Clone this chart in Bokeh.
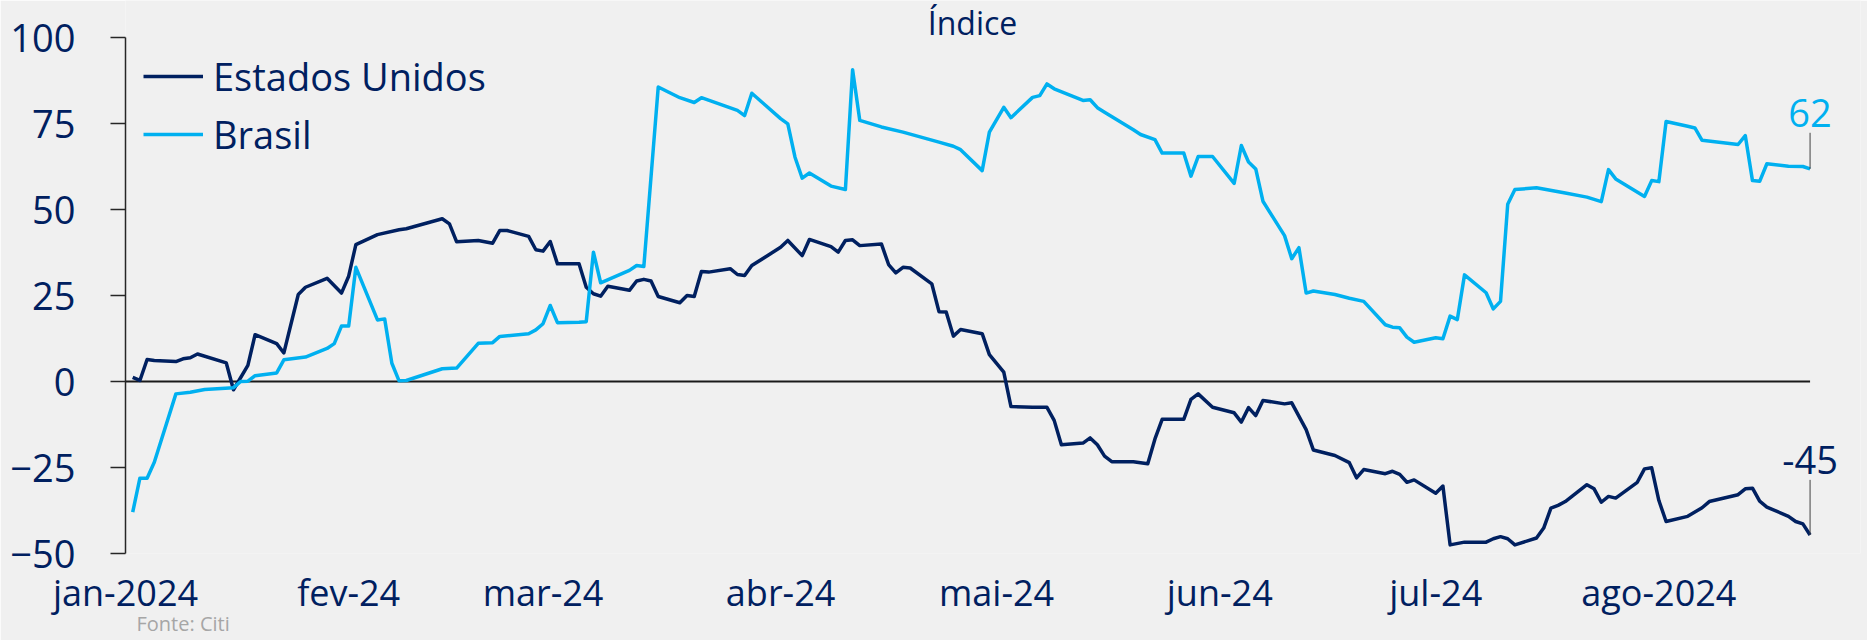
import pandas as pd
from bokeh.plotting import figure
from bokeh.models import Range1d, FixedTicker, Legend, LegendItem, Label, LinearAxis
from bokeh.embed import file_html
from bokeh.resources import INLINE
from bokeh.core.properties import value

# ---------------- data ----------------
YEAR = "2024"
us_dates = ["01-02","01-03","01-04","01-05","01-08","01-09","01-10","01-11","01-15","01-16",
            "01-18","01-19","01-22","01-23","01-25","01-26","01-29","01-31","02-01","02-02",
            "02-05","02-08","02-09","02-14","02-15","02-16","02-19","02-21","02-22","02-23",
            "02-26","02-27","02-28","02-29","03-01","03-04","03-05","03-06","03-07","03-08",
            "03-11","03-12","03-13","03-14","03-15","03-18","03-19","03-20","03-21","03-22",
            "03-25","03-26","03-27","03-28","04-01","04-02","04-04","04-05","04-08","04-09",
            "04-10","04-11","04-12","04-15","04-16","04-17","04-18","04-19","04-22","04-23",
            "04-24","04-25","04-26","04-29","04-30","05-02","05-03","05-06","05-08","05-09",
            "05-10","05-13","05-14","05-15","05-16","05-17","05-20","05-22","05-23","05-24",
            "05-27","05-28","05-29","05-31","06-03","06-04","06-05","06-06","06-07","06-10",
            "06-11","06-13","06-14","06-17","06-19","06-20","06-21","06-24","06-25","06-26",
            "06-27","06-28","07-01","07-02","07-03","07-05","07-08","07-09","07-10","07-11",
            "07-12","07-15","07-16","07-17","07-18","07-19","07-22","07-23","07-24","07-25",
            "07-26","07-29","07-30","07-31","08-01","08-02","08-05","08-07","08-08","08-12",
            "08-13","08-14","08-15","08-16","08-19","08-20","08-21","08-22"]
us_values = [1.2, 0.3, 6.4, 6.1, 5.8, 6.6, 6.9, 8.0, 5.4, -2.4,
             4.7, 13.6, 11.0, 8.3, 25.3, 27.4, 30.0, 25.7, 30.6, 39.8,
             42.7, 44.1, 44.4, 47.3, 45.8, 40.6, 41.0, 40.2, 43.9, 43.9,
             42.2, 38.3, 37.9, 40.7, 34.2, 34.2, 27.4, 25.5, 24.8, 27.7,
             26.5, 29.2, 29.7, 29.2, 24.7, 22.9, 25.0, 24.7, 32.0, 31.8,
             32.8, 31.1, 30.8, 33.7, 39.0, 41.0, 36.6, 41.3, 39.2, 37.6,
             41.0, 41.2, 39.5, 40.0, 34.0, 31.6, 33.2, 33.0, 28.4, 20.3,
             20.2, 13.2, 15.1, 13.9, 7.8, 2.7, -7.3, -7.5, -7.5, -11.3,
             -18.4, -17.9, -16.4, -18.4, -21.7, -23.3, -23.3, -23.9, -16.7, -11.0,
             -11.0, -5.2, -3.6, -7.5, -9.1, -11.8, -7.6, -9.9, -5.5, -6.5,
             -6.2, -14.0, -19.9, -21.5, -23.6, -28.0, -25.6, -26.8, -26.1, -27.0,
             -29.3, -28.6, -32.5, -30.4, -47.5, -46.7, -46.7, -45.7, -45.1, -45.7,
             -47.5, -45.5, -42.6, -36.8, -36.0, -34.9, -30.0, -31.2, -35.1, -33.4,
             -33.9, -29.3, -25.4, -25.1, -34.6, -40.7, -39.2, -36.7, -34.9, -32.9,
             -31.2, -31.0, -34.8, -36.5, -39.2, -40.7, -41.4, -44.6]

br_dates = ["01-02","01-03","01-04","01-05","01-08","01-10","01-12","01-16","01-17","01-18",
            "01-19","01-22","01-23","01-26","01-29","01-30","01-31","02-01","02-02","02-05",
            "02-06","02-07","02-08","02-09","02-14","02-16","02-19","02-21","02-22","02-26",
            "02-27","02-28","02-29","03-01","03-04","03-05","03-06","03-07","03-11","03-12",
            "03-13","03-15","03-18","03-20","03-21","03-26","03-27","03-28","04-01","04-02",
            "04-03","04-04","04-05","04-08","04-10","04-11","04-12","04-15","04-18","04-23",
            "04-25","04-26","04-29","04-30","05-02","05-03","05-06","05-07","05-08","05-09",
            "05-13","05-14","05-15","05-16","05-20","05-21","05-23","05-24","05-27","05-28",
            "05-29","05-31","06-03","06-04","06-05","06-06","06-07","06-10","06-11","06-12",
            "06-13","06-14","06-17","06-19","06-21","06-24","06-25","06-26","06-27","06-28",
            "07-01","07-02","07-03","07-04","07-05","07-08","07-09","07-10","07-11","07-12",
            "07-15","07-19","07-22","07-24","07-25","07-26","07-30","07-31","08-01","08-02",
            "08-05","08-06","08-07","08-12","08-13","08-14","08-15","08-16","08-19","08-21",
            "08-22"]
br_values = [-38.0, -28.1, -28.1, -23.5, -3.6, -3.1, -2.3, -1.8, 0.0, 0.1,
             1.7, 2.5, 6.3, 7.1, 9.6, 11.0, 16.1, 16.1, 33.2, 17.9,
             18.2, 5.3, 0.2, 0.3, 3.7, 3.9, 11.1, 11.3, 13.1, 13.9,
             15.0, 16.8, 22.1, 17.1, 17.2, 17.4, 37.6, 28.7, 32.3, 33.7,
             33.4, 85.6, 82.5, 81.1, 82.5, 78.8, 77.3, 83.8, 76.4, 74.9,
             65.2, 59.1, 60.6, 56.8, 55.8, 90.6, 75.9, 74.0, 72.5, 69.6,
             68.4, 67.4, 61.3, 72.5, 79.7, 76.7, 82.6, 83.1, 86.5, 85.1,
             81.7, 81.9, 79.6, 78.3, 73.2, 71.8, 70.3, 66.4, 66.4, 59.7,
             65.4, 65.4, 57.6, 68.6, 63.8, 61.8, 52.4, 42.4, 35.7, 38.9,
             25.7, 26.3, 25.3, 24.2, 23.3, 16.5, 15.8, 15.6, 12.9, 11.4,
             12.7, 12.4, 19.0, 18.0, 31.0, 25.8, 21.1, 23.3, 51.5, 55.8,
             56.3, 54.8, 53.6, 52.3, 61.6, 58.9, 53.8, 58.4, 58.1, 75.6,
             74.2, 73.7, 70.1, 68.9, 71.5, 58.4, 58.2, 63.3, 62.6, 62.5,
             61.8]

# tick label anchor dates (as placed in the reference)
label_dates = ["2024-01-01","2024-02-01","2024-02-28","2024-04-01","2024-05-01",
               "2024-06-01","2024-07-01","2024-08-01"]
month_labels = ["jan-2024","fev-24","mar-24","abr-24","mai-24","jun-24","jul-24","ago-2024"]
y_ticks = [-50, -25, 0, 25, 50, 75, 100]
series_names = ["Estados Unidos", "Brasil"]
title_text = "Índice"
source_text = "Fonte: Citi"

# ---------------- helpers ----------------
ORIGIN = pd.Timestamp(f"{YEAR}-01-01")
def to_days(mmdd):
    return [int((pd.Timestamp(f"{YEAR}-{s}") - ORIGIN).days) for s in mmdd]

us_x = to_days(us_dates)
br_x = to_days(br_dates)
tick_x = [int((pd.Timestamp(s) - ORIGIN).days) for s in label_dates]

NAVY = "#002060"
LIGHT = "#00b0f0"
BG = "#f0f0f0"
FONT = "Open Sans"

PX_PER_DAY = 7.199
LEFT = 125
X1 = (1860 - LEFT) / PX_PER_DAY
Y_TOP = 100 + 37 / 3.44                  # headroom above 100 for the title

p = figure(width=1867, height=640, output_backend="svg", toolbar_location=None,
           x_range=Range1d(0, X1), y_range=Range1d(-50, Y_TOP),
           min_border_left=LEFT, min_border_right=7, min_border_top=0, min_border_bottom=87)
p.background_fill_color = BG
p.border_fill_color = BG
p.outline_line_color = None
p.grid.visible = False

# zero line across the data span
p.line(x=[0, us_x[-1]], y=[0, 0], line_color="#1a1a1a", line_width=2)

r_us = p.line(us_x, us_values, line_color=NAVY, line_width=3.5, line_join="round")
r_br = p.line(br_x, br_values, line_color=LIGHT, line_width=3.5, line_join="round")

# end-value labels with leader lines
for xs, ys, col, lead, off in [(br_x, br_values, LIGHT, 10.5, 16.3), (us_x, us_values, NAVY, 16.0, 21.9)]:
    p.segment(x0=[xs[-1]], y0=[ys[-1]], x1=[xs[-1]], y1=[ys[-1] + lead],
              line_color="#404040", line_width=1)
    p.text(x=[xs[-1]], y=[ys[-1] + off], text=[f"{round(ys[-1]):d}"],
           text_color=col, text_font=value(FONT), text_font_size="38px",
           text_align="center", text_baseline="alphabetic")

# axes
xa = p.xaxis[0]
xa.ticker = FixedTicker(ticks=tick_x)
xa.major_label_overrides = {t: l for t, l in zip(tick_x, month_labels)}
xa.axis_line_color = None
xa.major_tick_line_color = None
xa.minor_tick_line_color = None
xa.major_tick_in = 0
xa.major_tick_out = 0
xa.major_label_text_font = FONT
xa.major_label_text_font_size = "36px"
xa.major_label_text_color = NAVY
xa.major_label_standoff = 14

ya = p.yaxis[0]
ya.bounds = (-50, 100)
ya.ticker = FixedTicker(ticks=y_ticks)
ya.axis_line_color = "#262626"
ya.axis_line_width = 1.5
ya.major_tick_line_color = "#262626"
ya.major_tick_line_width = 1.5
ya.major_tick_in = 0
ya.major_tick_out = 15
ya.minor_tick_line_color = None
ya.major_label_text_font = FONT
ya.major_label_text_font_size = "38px"
ya.major_label_text_color = NAVY
ya.major_label_standoff = 35

# source line: a tick-less second axis under the dates
src_x = 8
src_axis = LinearAxis(ticker=FixedTicker(ticks=[src_x]),
                      major_label_overrides={src_x: source_text},
                      axis_line_color=None, major_tick_line_color=None,
                      minor_tick_line_color=None, major_tick_in=0, major_tick_out=0,
                      major_label_standoff=-10, major_label_text_font=FONT,
                      major_label_text_font_size="20px", major_label_text_color="#a6a6a6")
p.add_layout(src_axis, "below")

# legend
legend = Legend(items=[LegendItem(label=series_names[0], renderers=[r_us]),
                       LegendItem(label=series_names[1], renderers=[r_br])],
                location=(18, 390), orientation="vertical",
                label_text_font=FONT, label_text_font_size="38px", label_text_color=NAVY,
                glyph_width=60, glyph_height=58, label_height=58, label_standoff=10,
                spacing=0, padding=10, margin=0,
                border_line_color=None, background_fill_alpha=0)
p.add_layout(legend)

# title inside the frame headroom
p.add_layout(Label(x=972 - LEFT, y=531, x_units="screen", y_units="screen", text=title_text,
                   text_font=FONT, text_font_size="32px", text_color=NAVY,
                   text_align="center", text_baseline="alphabetic"))

open("out.html", "w").write(file_html(p, INLINE))
